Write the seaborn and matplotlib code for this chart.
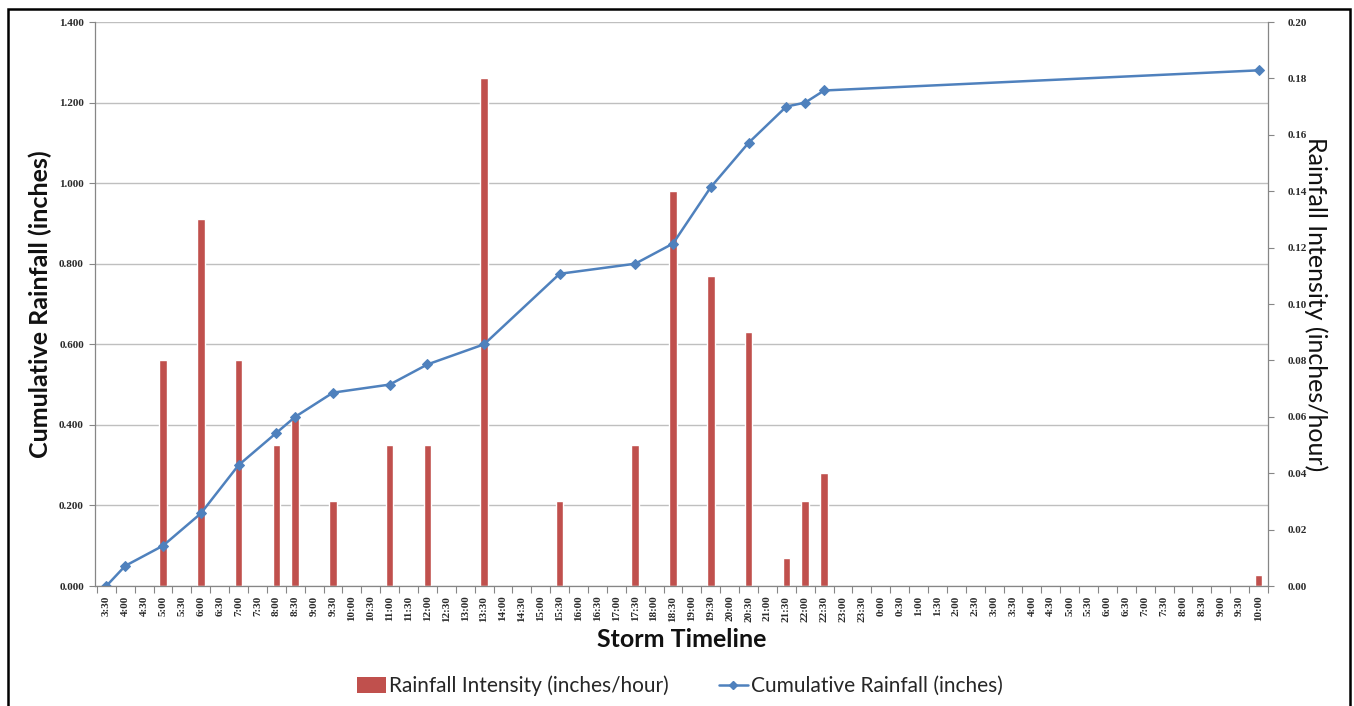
import numpy as np
import pandas as pd
import matplotlib
matplotlib.use("Agg")
import matplotlib.pyplot as plt
from matplotlib.patches import Rectangle, Patch
from matplotlib.lines import Line2D
import seaborn as sns

# ---------------- data ----------------
times = ["3:30", "4:00", "4:30", "5:00", "5:30", "6:00", "6:30", "7:00", "7:30",
         "8:00", "8:30", "9:00", "9:30", "10:00", "10:30", "11:00", "11:30",
         "12:00", "12:30", "13:00", "13:30", "14:00", "14:30", "15:00", "15:30",
         "16:00", "16:30", "17:00", "17:30", "18:00", "18:30", "19:00", "19:30",
         "20:00", "20:30", "21:00", "21:30", "22:00", "22:30", "23:00", "23:30",
         "0:00 ", "0:30 ", "1:00 ", "1:30 ", "2:00 ", "2:30 ", "3:00 ", "3:30 ",
         "4:00 ", "4:30 ", "5:00 ", "5:30 ", "6:00 ", "6:30 ", "7:00 ", "7:30 ",
         "8:00 ", "8:30 ", "9:00 ", "9:30 ", "10:00 "]

bar_times = ["5:00", "6:00", "7:00", "8:00", "8:30", "9:30", "11:00", "12:00",
             "13:30", "15:30", "17:30", "18:30", "19:30", "20:30", "21:30",
             "22:00", "22:30", "10:00 "]
intensity = [0.08, 0.13, 0.08, 0.05, 0.06, 0.03, 0.05, 0.05,
             0.18, 0.03, 0.05, 0.14, 0.11, 0.09, 0.01,
             0.03, 0.04, 0.004]

line_times = ["3:30", "4:00", "5:00", "6:00", "7:00", "8:00", "8:30", "9:30",
              "11:00", "12:00", "13:30", "15:30", "17:30", "18:30", "19:30",
              "20:30", "21:30", "22:00", "22:30", "10:00 "]
cumulative = [0.000, 0.050, 0.100, 0.180, 0.300, 0.380, 0.420, 0.480,
              0.500, 0.550, 0.600, 0.775, 0.800, 0.850, 0.990,
              1.100, 1.190, 1.200, 1.230, 1.280]

left_ticks = [0.0, 0.2, 0.4, 0.6, 0.8, 1.0, 1.2, 1.4]
right_ticks = [0.00, 0.02, 0.04, 0.06, 0.08, 0.10, 0.12, 0.14, 0.16, 0.18, 0.20]

# ---------------- style ----------------
sns.set_style("white")
plt.rcParams["font.family"] = ["Lato", "DejaVu Sans"]

BAR_C = "#C0504D"
LINE_C = "#4F81BD"
GRID_C = "#BFBFBF"
AXIS_C = "#868686"
TICK_FONT = dict(family=["Liberation Serif", "DejaVu Serif"], size=8,
                 weight="bold")

W, H = 1354, 706
fig = plt.figure(figsize=(W / 100, H / 100), dpi=100)
fig.patch.set_facecolor("white")

x0, x1 = 95 / W, 1268 / W
y0, y1 = 1 - 586 / H, 1 - 22 / H
ax = fig.add_axes([x0, y0, x1 - x0, y1 - y0])
ax2 = ax.twinx()

# bars on the right (intensity) axis, drawn underneath
bar_df = pd.DataFrame({"time": bar_times, "intensity": intensity})
sns.barplot(data=bar_df, x="time", y="intensity", order=times, color=BAR_C,
            saturation=1, width=0.4, ax=ax2, zorder=3)

# cumulative line on the left axis, drawn on top
pos = [times.index(t) for t in line_times]
sns.lineplot(x=pos, y=cumulative, ax=ax, color=LINE_C, linewidth=1.8,
             marker="D", markersize=5.5, markeredgecolor=LINE_C,
             markerfacecolor=LINE_C, sort=False, legend=False)

ax.set_zorder(2)
ax2.set_zorder(1)
ax.patch.set_visible(False)
ax2.patch.set_visible(True)
ax2.patch.set_facecolor("white")

# axes limits
ax.set_xlim(-0.6, len(times) - 0.5)
ax.set_ylim(0, 1.4)
ax2.set_ylim(0, 0.2)

# left axis ticks
ax.set_yticks(left_ticks)
ax.set_yticklabels([f"{v:.3f}" for v in left_ticks], **TICK_FONT, color="#2a2a2a")
ax.tick_params(axis="y", which="major", direction="out", length=4, width=0.8,
               color=AXIS_C, pad=4, left=True)

# right axis ticks
ax2.set_yticks(right_ticks)
ax2.set_yticklabels([f"{v:.2f}" for v in right_ticks], **TICK_FONT, color="#2a2a2a")
ax2.tick_params(axis="y", which="major", direction="out", length=4, width=0.8,
                color=AXIS_C, pad=10, right=True)

# horizontal gridlines (left-axis values) drawn behind the bars on ax2
ax2.yaxis.remove_overlapping_locs = False
ax2.set_yticks([v * 0.2 / 1.4 for v in left_ticks], minor=True)
ax2.tick_params(axis="y", which="minor", length=0)
ax2.grid(False, which="major")
ax2.grid(True, which="minor", axis="y", color=GRID_C, linewidth=1.0, zorder=0)
ax2.set_axisbelow(True)
ax.grid(False)

# x ticks: labels at categories, marks between categories
ax.set_xticks(range(len(times)))
ax.set_xticklabels([t.strip() for t in times], rotation=90, **TICK_FONT,
                   color="#2a2a2a")
ax.set_xticks(np.arange(-0.5, len(times), 1.0), minor=True)
ax.tick_params(axis="x", which="major", length=0, pad=7, bottom=True)
ax.tick_params(axis="x", which="minor", direction="out", length=5, width=0.8,
               color=AXIS_C, bottom=True)

# spines
for s in ["top", "right"]:
    ax.spines[s].set_visible(False)
for s in ["left", "bottom"]:
    ax.spines[s].set_color(AXIS_C)
    ax.spines[s].set_linewidth(0.9)
for s in ["top", "left", "bottom"]:
    ax2.spines[s].set_visible(False)
ax2.spines["right"].set_color(AXIS_C)
ax2.spines["right"].set_linewidth(0.9)

# axis titles
ax.set_xlabel("Storm Timeline", fontsize=18, fontweight="bold", color="#111111")
ax.xaxis.set_label_coords(0.5, -0.074)
ax.set_ylabel("Cumulative Rainfall (inches)", fontsize=18, fontweight="bold",
              color="#111111")
ax.yaxis.set_label_coords(-0.037, 0.5)
ax2.set_ylabel("Rainfall Intensity (inches/hour)", fontsize=18, rotation=270,
               va="bottom", color="#111111")
ax2.yaxis.set_label_coords(1.031, 0.5)

# legend
handles = [Patch(facecolor=BAR_C, edgecolor="none"),
           Line2D([0], [0], color=LINE_C, linewidth=1.8, marker="D",
                  markersize=4.5, markerfacecolor=LINE_C, markeredgecolor=LINE_C)]
labels = ["Rainfall Intensity (inches/hour)", "Cumulative Rainfall (inches)"]
fig.legend(handles, labels, loc="center", bbox_to_anchor=(0.502, 1 - 686 / H),
           ncol=2, frameon=False, fontsize=15, handlelength=1.4,
           handleheight=0.8, handletextpad=0.15, columnspacing=2.4)

# outer frame
fig.patches.append(Rectangle((7.5 / W, -0.02), (1350 - 7.5) / W, (H - 9) / H + 0.02,
                             transform=fig.transFigure, fill=False,
                             edgecolor="black", linewidth=1.8))

fig.savefig("out.png", dpi=100, facecolor="white")
